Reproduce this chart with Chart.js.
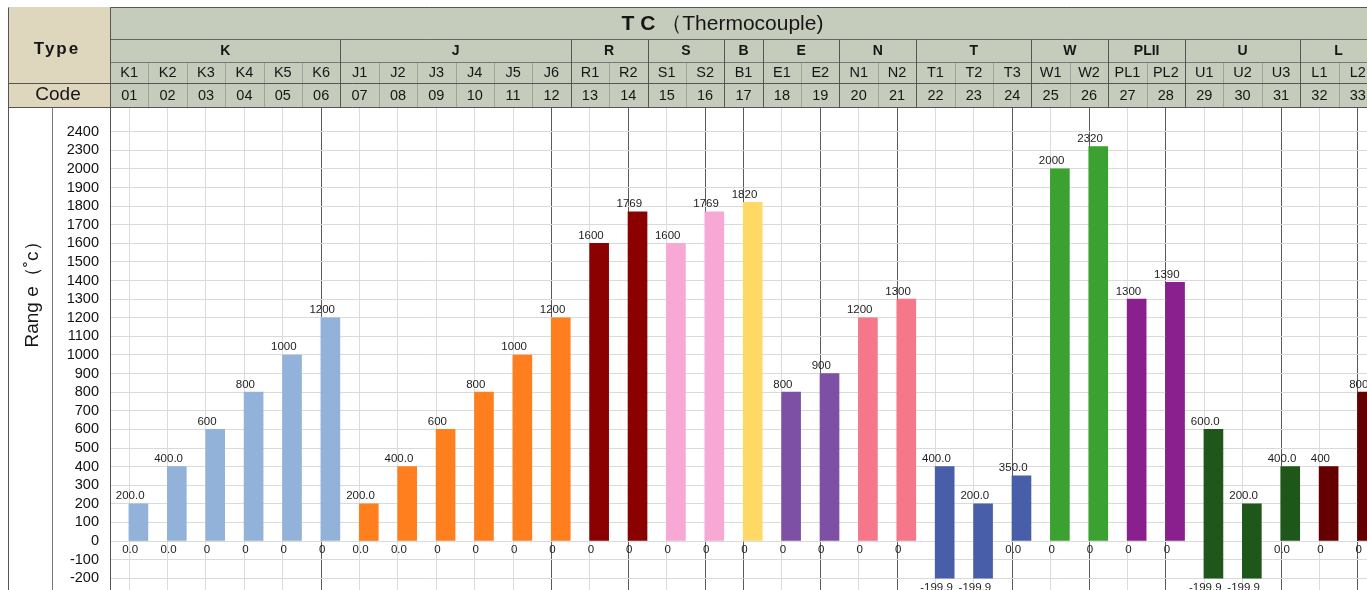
<!DOCTYPE html>
<html>
<head>
<meta charset="utf-8">
<script src="https://cdn.jsdelivr.net/npm/chart.js@4/dist/chart.umd.min.js"></script>
<style>
    body { margin: 0; overflow: hidden; background: #fff; }
    canvas { display: block; }
</style>
</head>
<body>
<canvas id="grafico" width="1385" height="600"></canvas>
<script>
var tipos = ['K', 'J', 'R', 'S', 'B', 'E', 'N', 'T', 'W', 'PLII', 'U', 'L'];
var tiposQtd = [6, 6, 2, 2, 1, 2, 2, 3, 2, 2, 3, 2];
var cores = ['#92b2d9', '#ff7f1e', '#8b0000', '#f7a8d5', '#ffd966', '#7d4fa5',
             '#f6768a', '#485ea9', '#3ba231', '#8a1f8e', '#1f561a', '#650000'];

var nomes = ['K1', 'K2', 'K3', 'K4', 'K5', 'K6', 'J1', 'J2', 'J3', 'J4', 'J5', 'J6',
             'R1', 'R2', 'S1', 'S2', 'B1', 'E1', 'E2', 'N1', 'N2', 'T1', 'T2', 'T3',
             'W1', 'W2', 'PL1', 'PL2', 'U1', 'U2', 'U3', 'L1', 'L2'];
var codigos = ['01', '02', '03', '04', '05', '06', '07', '08', '09', '10', '11', '12',
               '13', '14', '15', '16', '17', '18', '19', '20', '21', '22', '23', '24',
               '25', '26', '27', '28', '29', '30', '31', '32', '33'];
var minimos = [0, 0, 0, 0, 0, 0, 0, 0, 0, 0, 0, 0,
               0, 0, 0, 0, 0, 0, 0, 0, 0, -199.9, -199.9, 0,
               0, 0, 0, 0, -199.9, -199.9, 0, 0, 0];
var maximos = [200, 400, 600, 800, 1000, 1200, 200, 400, 600, 800, 1000, 1200,
               1600, 1769, 1600, 1769, 1820, 800, 900, 1200, 1300, 400, 200, 350,
               2000, 2320, 1300, 1390, 600, 200, 400, 400, 800];
var rotulosTopo = ['200.0', '400.0', '600', '800', '1000', '1200', '200.0', '400.0', '600', '800', '1000', '1200',
                   '1600', '1769', '1600', '1769', '1820', '800', '900', '1200', '1300', '400.0', '200.0', '350.0',
                   '2000', '2320', '1300', '1390', '600.0', '200.0', '400.0', '400', '800'];
var rotulosBase = ['0.0', '0.0', '0', '0', '0', '0', '0.0', '0.0', '0', '0', '0', '0',
                   '0', '0', '0', '0', '0', '0', '0', '0', '0', '-199.9', '-199.9', '0.0',
                   '0', '0', '0', '0', '-199.9', '-199.9', '0.0', '0', '0'];
var eixoY = [-200, -100, 0, 100, 200, 300, 400, 500, 600, 700, 800, 900, 1000, 1100,
             1200, 1300, 1400, 1500, 1600, 1700, 1800, 1900, 2000, 2300, 2400];

var fonte = '"Liberation Sans", Arial, sans-serif';

// the axis is broken above 2000 (2000 -> 2300 takes one row)
function posEixo(v) {
    if (v <= 2000) return v;
    if (v <= 2300) return 2000 + (v - 2000) / 3;
    return 2100 + (v - 2300);
}

var limites = [0];
tiposQtd.forEach(function (q, i) { limites.push(limites[i] + q); });

var coresBarras = [];
tiposQtd.forEach(function (q, i) {
    for (var k = 0; k < q; k++) coresBarras.push(cores[i]);
});

var rotulos = {
    id: 'rotulos',
    afterDatasetsDraw: function (chart) {
        var ctx = chart.ctx;
        var x = chart.scales.x;
        var barras = chart.getDatasetMeta(0).data;
        ctx.save();
        ctx.font = '11.5px ' + fonte;
        ctx.fillStyle = '#1e1e1e';
        ctx.textAlign = 'center';
        barras.forEach(function (b, i) {
            var cx = x.getPixelForValue(i + 0.5) + 1;
            ctx.textBaseline = 'bottom';
            ctx.fillText(rotulosTopo[i], cx, b.y - 2);
            ctx.textBaseline = 'top';
            ctx.fillText(rotulosBase[i], cx, b.base + 4);
        });
        ctx.restore();
    }
};

var cabecalho = {
    id: 'cabecalho',
    afterDraw: function (chart) {
        var ctx = chart.ctx;
        var x = chart.scales.x;
        var area = chart.chartArea;
        var esq = 8, topo = 7, fim = chart.width;
        var l1 = 39, l2 = 62, l3 = 83, l4 = area.top;
        var fundo = chart.height;

        ctx.save();
        ctx.fillStyle = '#c6ccbc';
        ctx.fillRect(area.left, topo, fim - area.left, l4 - topo);
        ctx.fillStyle = '#ded7be';
        ctx.fillRect(esq, topo, area.left - esq, l4 - topo);

        function linha(x1, y1, x2, y2, cor) {
            ctx.strokeStyle = cor;
            ctx.lineWidth = 1;
            ctx.beginPath();
            ctx.moveTo(Math.round(x1) + 0.5, Math.round(y1) + 0.5);
            ctx.lineTo(Math.round(x2) + 0.5, Math.round(y2) + 0.5);
            ctx.stroke();
        }

        // column separators in the name and code rows
        nomes.forEach(function (n, i) {
            var px = x.getPixelForValue(i);
            linha(px, l2, px, l4, '#9ea39a');
        });
        linha(area.left, topo, fim, topo, '#555');
        linha(area.left, l1, fim, l1, '#666');
        linha(area.left, l2, fim, l2, '#777');
        linha(esq, l3, fim, l3, '#555');
        linha(esq, l4, fim, l4, '#555');
        linha(esq, topo, esq, fundo, '#555');
        linha(area.left, topo, area.left, fundo, '#555');
        linha(52, l4, 52, fundo, '#777');
        limites.forEach(function (v) {
            var px = x.getPixelForValue(v);
            linha(px, l1, px, l4, '#555');
        });

        ctx.fillStyle = '#161616';
        ctx.textAlign = 'center';
        ctx.textBaseline = 'middle';

        // title
        var t1 = 'T C ', t2 = '（Thermocouple)';
        ctx.font = 'bold 21px ' + fonte;
        var w1 = ctx.measureText(t1).width;
        ctx.font = '21px ' + fonte;
        var w2 = ctx.measureText(t2).width;
        var inicio = (area.left + area.right) / 2 - 21 - (w1 + w2) / 2;
        ctx.textAlign = 'left';
        ctx.font = 'bold 21px ' + fonte;
        ctx.fillText(t1, inicio, 24);
        ctx.font = '21px ' + fonte;
        ctx.fillText(t2, inicio + w1, 24);

        // Type / Code
        ctx.textAlign = 'center';
        ctx.font = 'bold 17px ' + fonte;
        ctx.letterSpacing = '2px';
        ctx.fillText('Type', 57, 49);
        ctx.letterSpacing = '0px';
        ctx.font = '19px ' + fonte;
        ctx.fillText('Code', 58, 95);

        // groups
        ctx.font = 'bold 14px ' + fonte;
        tipos.forEach(function (t, i) {
            var cx = (x.getPixelForValue(limites[i]) + x.getPixelForValue(limites[i + 1])) / 2;
            ctx.fillText(t, cx, 51);
        });

        // names and codes
        ctx.font = '14.5px ' + fonte;
        nomes.forEach(function (n, i) {
            var cx = x.getPixelForValue(i + 0.5);
            ctx.fillText(n, cx, 73);
            ctx.fillText(codigos[i], cx, 96);
        });

        // y title
        ctx.translate(33, 290);
        ctx.rotate(-Math.PI / 2);
        ctx.font = '19px ' + fonte;
        ctx.fillText('Rang e（˚c）', 0, 0);
        ctx.restore();
    }
};

var colunas = [];
for (var i = 0; i <= nomes.length; i++) colunas.push({ value: i });

var ctx = document.getElementById('grafico').getContext('2d');
var myChart = new Chart(ctx, {
    type: 'bar',
    data: {
        datasets: [{
            label: 'Range',
            data: nomes.map(function (n, i) {
                return { x: i + 0.74, y: [posEixo(minimos[i]), posEixo(maximos[i])] };
            }),
            backgroundColor: coresBarras,
            borderWidth: 0,
            barThickness: 19
        }]
    },
    options: {
        responsive: false,
        animation: false,
        layout: { padding: { left: 8, top: 7, right: 8, bottom: 0 } },
        plugins: {
            legend: { display: false },
            tooltip: { enabled: false }
        },
        scales: {
            x: {
                type: 'linear',
                position: 'top',
                offset: false,
                min: 0,
                max: nomes.length,
                afterBuildTicks: function (scale) {
                    scale.ticks = colunas.slice();
                },
                afterFit: function (scale) {
                    scale.height = 100;
                    scale.paddingLeft = 0;
                    scale.paddingRight = 0;
                },
                ticks: { display: false },
                border: { display: false },
                grid: {
                    drawTicks: false,
                    color: function (c) {
                        if (!c.tick) return '#5a5a5a';
                        return limites.indexOf(c.tick.value) >= 0 ? '#5a5a5a' : '#dcdcdc';
                    }
                }
            },
            y: {
                min: -317,
                max: 2333,
                afterBuildTicks: function (scale) {
                    scale.ticks = eixoY.map(function (v) { return { value: posEixo(v) }; });
                },
                afterFit: function (scale) {
                    scale.width = 102;
                    scale.paddingTop = 0;
                    scale.paddingBottom = 0;
                },
                ticks: {
                    autoSkip: false,
                    padding: 11,
                    color: '#111',
                    font: { family: fonte, size: 14.5 },
                    callback: function (v, i) { return eixoY[i]; }
                },
                border: { display: false },
                grid: { drawTicks: false, color: '#dadada' }
            }
        }
    },
    plugins: [rotulos, cabecalho]
});
</script>
</body>
</html>
